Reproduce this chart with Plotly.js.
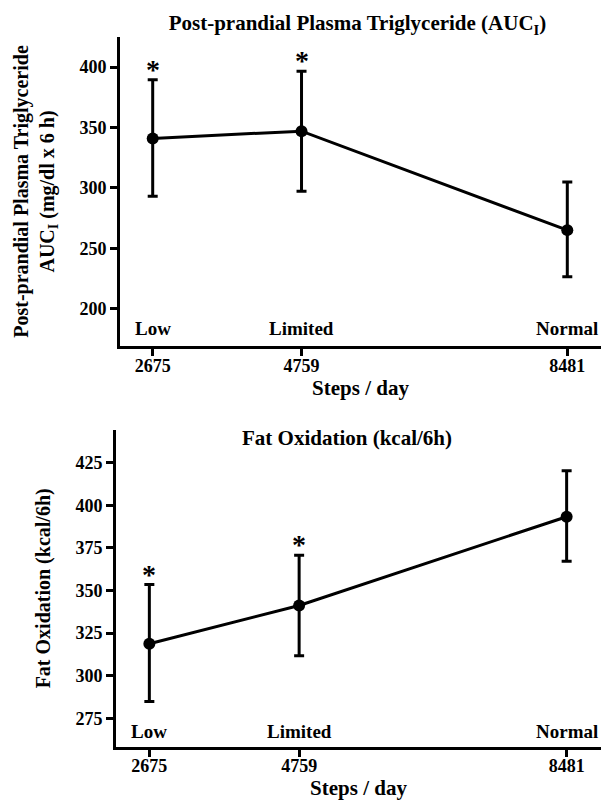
<!DOCTYPE html>
<html>
<head>
<meta charset="utf-8">
<script src="https://cdn.plot.ly/plotly-3.0.1.min.js"></script>
<style>html,body{margin:0;padding:0;background:#fff;}#chart{width:601px;height:802px;}</style>
</head>
<body>
<div id="chart"></div>
<script>
// Data
const steps = [2675, 4759, 8481];
const groupLabels = ['Low', 'Limited', 'Normal'];
const tgMean = [341, 347, 265];
const tgErrPlus = [48.5, 49.7, 39.8];
const tgErrMinus = [48, 49.8, 38.6];
const tgSignificant = [true, true, false];
const fatMean = [318.7, 341.2, 393.3];
const fatErrPlus = [34.8, 29.5, 27];
const fatErrMinus = [33.8, 29.5, 26.1];
const fatSignificant = [true, true, false];
const tgTicks = [200, 250, 300, 350, 400];
const fatTicks = [275, 300, 325, 350, 375, 400, 425];

const FONT = '"Liberation Serif", serif';
const W = 601, H = 802;
const px = v => v / W;
const py = v => 1 - v / H;

const lineStyle = {color: '#000', width: 3};
function trace(x, y, plus, minus, xa, ya) {
  return {
    type: 'scatter', mode: 'lines+markers', x: x, y: y,
    xaxis: xa, yaxis: ya,
    line: lineStyle,
    marker: {color: '#000', size: 12},
    error_y: {type: 'data', array: plus, arrayminus: minus, symmetric: false,
              color: '#000', thickness: 3, width: 5},
    showlegend: false, hoverinfo: 'x+y'
  };
}

const data = [
  trace(steps, tgMean, tgErrPlus, tgErrMinus, 'x', 'y'),
  trace(steps, fatMean, fatErrPlus, fatErrMinus, 'x2', 'y2')
];

const axisBase = {
  showline: true, linecolor: '#000', linewidth: 3,
  ticks: 'outside', ticklen: 7, tickwidth: 3, tickcolor: '#000',
  showgrid: false, zeroline: false,
  tickfont: {family: FONT, size: 18, color: '#000', weight: 'bold'}
};

const labelFont = {family: FONT, size: 19, color: '#000'};
const starFont = {family: FONT, size: 28, color: '#000'};
const annotations = [];
steps.forEach((s, i) => {
  annotations.push({xref: 'x', yref: 'paper', x: s, y: py(328), text: '<b>' + groupLabels[i] + '</b>',
    showarrow: false, xanchor: 'center', yanchor: 'middle', font: labelFont});
  annotations.push({xref: 'x2', yref: 'paper', x: s, y: py(731.7), text: '<b>' + groupLabels[i] + '</b>',
    showarrow: false, xanchor: 'center', yanchor: 'middle', font: labelFont});
  if (tgSignificant[i]) {
    annotations.push({xref: 'x', yref: 'y', x: s, y: tgMean[i] + tgErrPlus[i], text: '<b>*</b>',
      showarrow: false, xanchor: 'center', yanchor: 'bottom', yshift: -7, font: starFont});
  }
  if (fatSignificant[i]) {
    annotations.push({xref: 'x2', yref: 'y2', x: s, y: fatMean[i] + fatErrPlus[i], text: '<b>*</b>',
      showarrow: false, xanchor: 'center', yanchor: 'bottom', yshift: -7, font: starFont});
  }
});
// Bottom panel title
annotations.push({xref: 'paper', yref: 'paper', x: px(347), y: py(438), text: '<b>Fat Oxidation (kcal/6h)</b>',
  showarrow: false, xanchor: 'center', yanchor: 'middle', font: {family: FONT, size: 21, color: '#000'}});

const layout = {
  width: W, height: H,
  margin: {l: 0, r: 0, t: 0, b: 0},
  paper_bgcolor: '#fff', plot_bgcolor: '#fff',
  font: {family: FONT, color: '#000'},
  title: {text: '<b>Post-prandial Plasma Triglyceride (AUC<sub>I</sub>)</b>',
    x: px(357.5), y: py(23), xref: 'paper', yref: 'paper', xanchor: 'center', yanchor: 'middle',
    font: {family: FONT, size: 21, color: '#000'}},
  xaxis: Object.assign({}, axisBase, {
    domain: [px(120), 1], anchor: 'y', range: [2217, 8953],
    tickvals: steps, ticktext: steps.map(String), ticklabelstandoff: -6,
    title: {text: '<b>Steps / day</b>', font: {family: FONT, size: 21, color: '#000'}, standoff: 2}
  }),
  yaxis: Object.assign({}, axisBase, {
    domain: [py(346), py(37)], anchor: 'x', range: [169, 425],
    tickvals: tgTicks,
    title: {text: '<b>Post-prandial Plasma Triglyceride<br>AUC<sub>I</sub> (mg/dl x 6 h)</b>',
      font: {family: FONT, size: 20, color: '#000'}, standoff: 20}
  }),
  xaxis2: Object.assign({}, axisBase, {
    domain: [px(116), 1], anchor: 'y2', range: [2211, 8959],
    tickvals: steps, ticktext: steps.map(String), ticklabelstandoff: -6,
    title: {text: '<b>Steps / day</b>', font: {family: FONT, size: 21, color: '#000'}, standoff: 2}
  }),
  yaxis2: Object.assign({}, axisBase, {
    domain: [py(746.7), py(430)], anchor: 'x2', range: [258.3, 444.2],
    tickvals: fatTicks,
    title: {text: '<b>Fat Oxidation (kcal/6h)</b>', font: {family: FONT, size: 20, color: '#000'}, standoff: 20}
  }),
  annotations: annotations
};

Plotly.newPlot('chart', data, layout, {displayModeBar: false, staticPlot: true});
</script>
</body>
</html>
